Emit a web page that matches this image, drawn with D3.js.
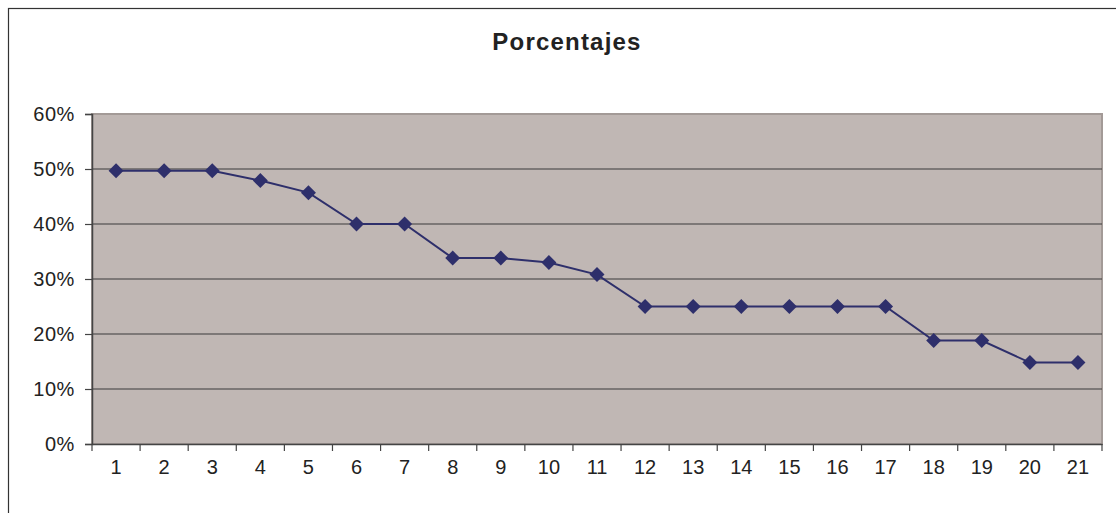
<!DOCTYPE html>
<html><head><meta charset="utf-8">
<script src="https://cdn.jsdelivr.net/npm/d3@7"></script>
<style>
html,body{margin:0;padding:0;background:#fff;}
svg{display:block;}
text{font-family:"Liberation Sans",Arial,sans-serif;fill:#222;}
</style></head>
<body>
<script>
const categories = ["1","2","3","4","5","6","7","8","9","10","11","12","13","14","15","16","17","18","19","20","21"];
const values = [0.497,0.497,0.497,0.479,0.457,0.40,0.40,0.338,0.338,0.330,0.308,0.25,0.25,0.25,0.25,0.25,0.25,0.188,0.188,0.148,0.148];
const yTicks = [0,0.1,0.2,0.3,0.4,0.5,0.6];
const title = "Porcentajes";

const W=1116,H=513;
const svg=d3.select("body").append("svg").attr("width",W).attr("height",H);
svg.append("rect").attr("x",8.5).attr("y",8.5).attr("width",W+10).attr("height",H+10)
  .attr("fill","#fff").attr("stroke","#333").attr("stroke-width",1.2);

const L=92,R=1102,T=114,B=444;
const x=d3.scaleBand().domain(categories).range([L,R]);
const y=d3.scaleLinear().domain([0,0.6]).range([B,T]);

svg.append("rect").attr("x",L).attr("y",T).attr("width",R-L).attr("height",B-T)
  .attr("fill","#c0b7b4").attr("stroke","#a39a97").attr("stroke-width",2);

svg.append("g").selectAll("line").data(yTicks.filter(d=>d>0&&d<0.6)).join("line")
  .attr("x1",L).attr("x2",R).attr("y1",d=>y(d)).attr("y2",d=>y(d))
  .attr("stroke","#3a3a3a").attr("stroke-width",1.2);

const yAxis=svg.append("g").attr("transform",`translate(${L},0)`)
  .call(d3.axisLeft(y).tickValues(yTicks).tickFormat(d3.format(".0%")).tickSize(7).tickPadding(10));
yAxis.select(".domain").attr("stroke","#444").attr("stroke-width",1.5);
yAxis.selectAll(".tick line").attr("stroke","#444").attr("stroke-width",1.2);
yAxis.selectAll("text").style("font-size","20px").attr("letter-spacing",0.6).attr("fill","#2a2a2a")
  .attr("font-family","'Liberation Sans',Arial,sans-serif");

const xAxis=svg.append("g").attr("transform",`translate(0,${B})`)
  .call(d3.axisBottom(x).tickSize(0).tickPadding(16));
xAxis.select(".domain").attr("stroke","#444").attr("stroke-width",1.5);
xAxis.selectAll("text").style("font-size","20px").attr("fill","#2a2a2a")
  .attr("font-family","'Liberation Sans',Arial,sans-serif");
const bounds=categories.map(c=>x(c)).concat([R]);
svg.append("g").selectAll("line").data(bounds).join("line")
  .attr("x1",d=>d).attr("x2",d=>d).attr("y1",B).attr("y2",B+7)
  .attr("stroke","#444").attr("stroke-width",1.2);

const cx=d=>x(d.c)+x.bandwidth()/2;
const pts=categories.map((c,i)=>({c,v:values[i]}));
svg.append("path").datum(pts)
  .attr("d",d3.line().x(cx).y(d=>y(d.v)))
  .attr("fill","none").attr("stroke","#2e2f6b").attr("stroke-width",2);
svg.append("g").selectAll("path").data(pts).join("path")
  .attr("d",d3.symbol(d3.symbolSquare,112))
  .attr("transform",d=>`translate(${cx(d)},${y(d.v)}) rotate(45)`)
  .attr("fill","#2e2f6b");

svg.append("text").attr("x",567).attr("y",50).attr("text-anchor","middle")
  .style("font-size","24px").attr("font-weight","bold").attr("letter-spacing",1.2)
  .attr("fill","#333").text(title);
</script>
</body></html>
